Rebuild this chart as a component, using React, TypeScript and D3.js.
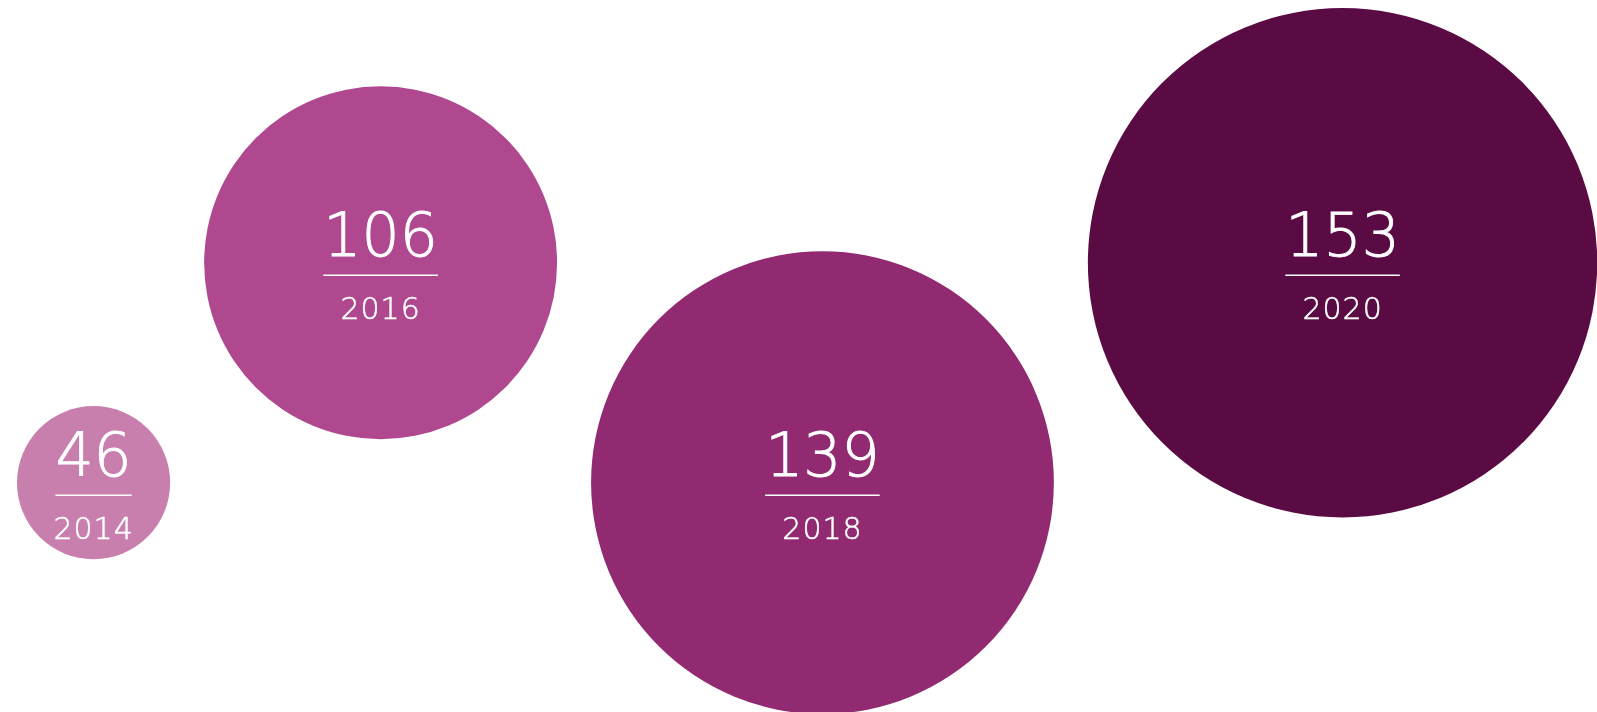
import React, { useEffect, useRef } from "react";
import * as d3 from "d3";

const years = ["2014", "2016", "2018", "2020"];
const values = [46, 106, 139, 153];
const colors = ["#c87fae", "#b0488f", "#912a70", "#5a0b43"];

const W = 1597;
const H = 712;

export default function App() {
  const ref = useRef<SVGSVGElement | null>(null);

  useEffect(() => {
    const svg = d3.select(ref.current);
    svg.selectAll("*").remove();

    const maxV = d3.max(values) as number;
    const r = d3.scaleLinear().domain([0, maxV]).range([0, 254.7]);

    const gap = 34;
    const startX = 17;
    const topY = 8 + r(maxV);
    const rowDrop = 220;

    let x = startX;
    const nodes = values.map((v, i) => {
      const rad = r(v);
      const cx = x + rad;
      x = cx + rad + gap;
      return { v, year: years[i], color: colors[i], cx, cy: i % 2 === 0 ? topY + rowDrop : topY, rad };
    });

    const g = svg
      .selectAll("g.node")
      .data(nodes)
      .join("g")
      .attr("class", "node")
      .attr("transform", (d) => `translate(${d.cx},${d.cy})`);

    g.append("circle").attr("r", (d) => d.rad).attr("fill", (d) => d.color);

    const num = g
      .append("text")
      .attr("text-anchor", "middle")
      .attr("y", -7)
      .attr("fill", "#fff")
      .attr("stroke", "#fff")
      .attr("stroke-width", 0.9)
      .style("font-family", "'DejaVu Sans', sans-serif")
      .style("font-weight", 200)
      .style("font-size", "60px")
      .text((d) => String(d.v));

    g.append("text")
      .attr("text-anchor", "middle")
      .attr("y", 56)
      .attr("fill", "#fff")
      .attr("stroke", "#fff")
      .attr("stroke-width", 0.5)
      .style("font-family", "'DejaVu Sans', sans-serif")
      .style("font-weight", 200)
      .style("font-size", "30px")
      .style("letter-spacing", "1px")
      .text((d) => d.year);

    num.each(function (this: SVGTextElement) {
      const w = this.getComputedTextLength();
      d3.select(this.parentNode as SVGGElement)
        .append("line")
        .attr("x1", -w / 2)
        .attr("x2", w / 2)
        .attr("y1", 12.5)
        .attr("y2", 12.5)
        .attr("stroke", "#fff")
        .attr("stroke-width", 1.5);
    });
  }, []);

  return (
    <svg
      ref={ref}
      width={W}
      height={H}
      style={{ position: "fixed", left: 0, top: 0, overflow: "hidden" }}
    />
  );
}
